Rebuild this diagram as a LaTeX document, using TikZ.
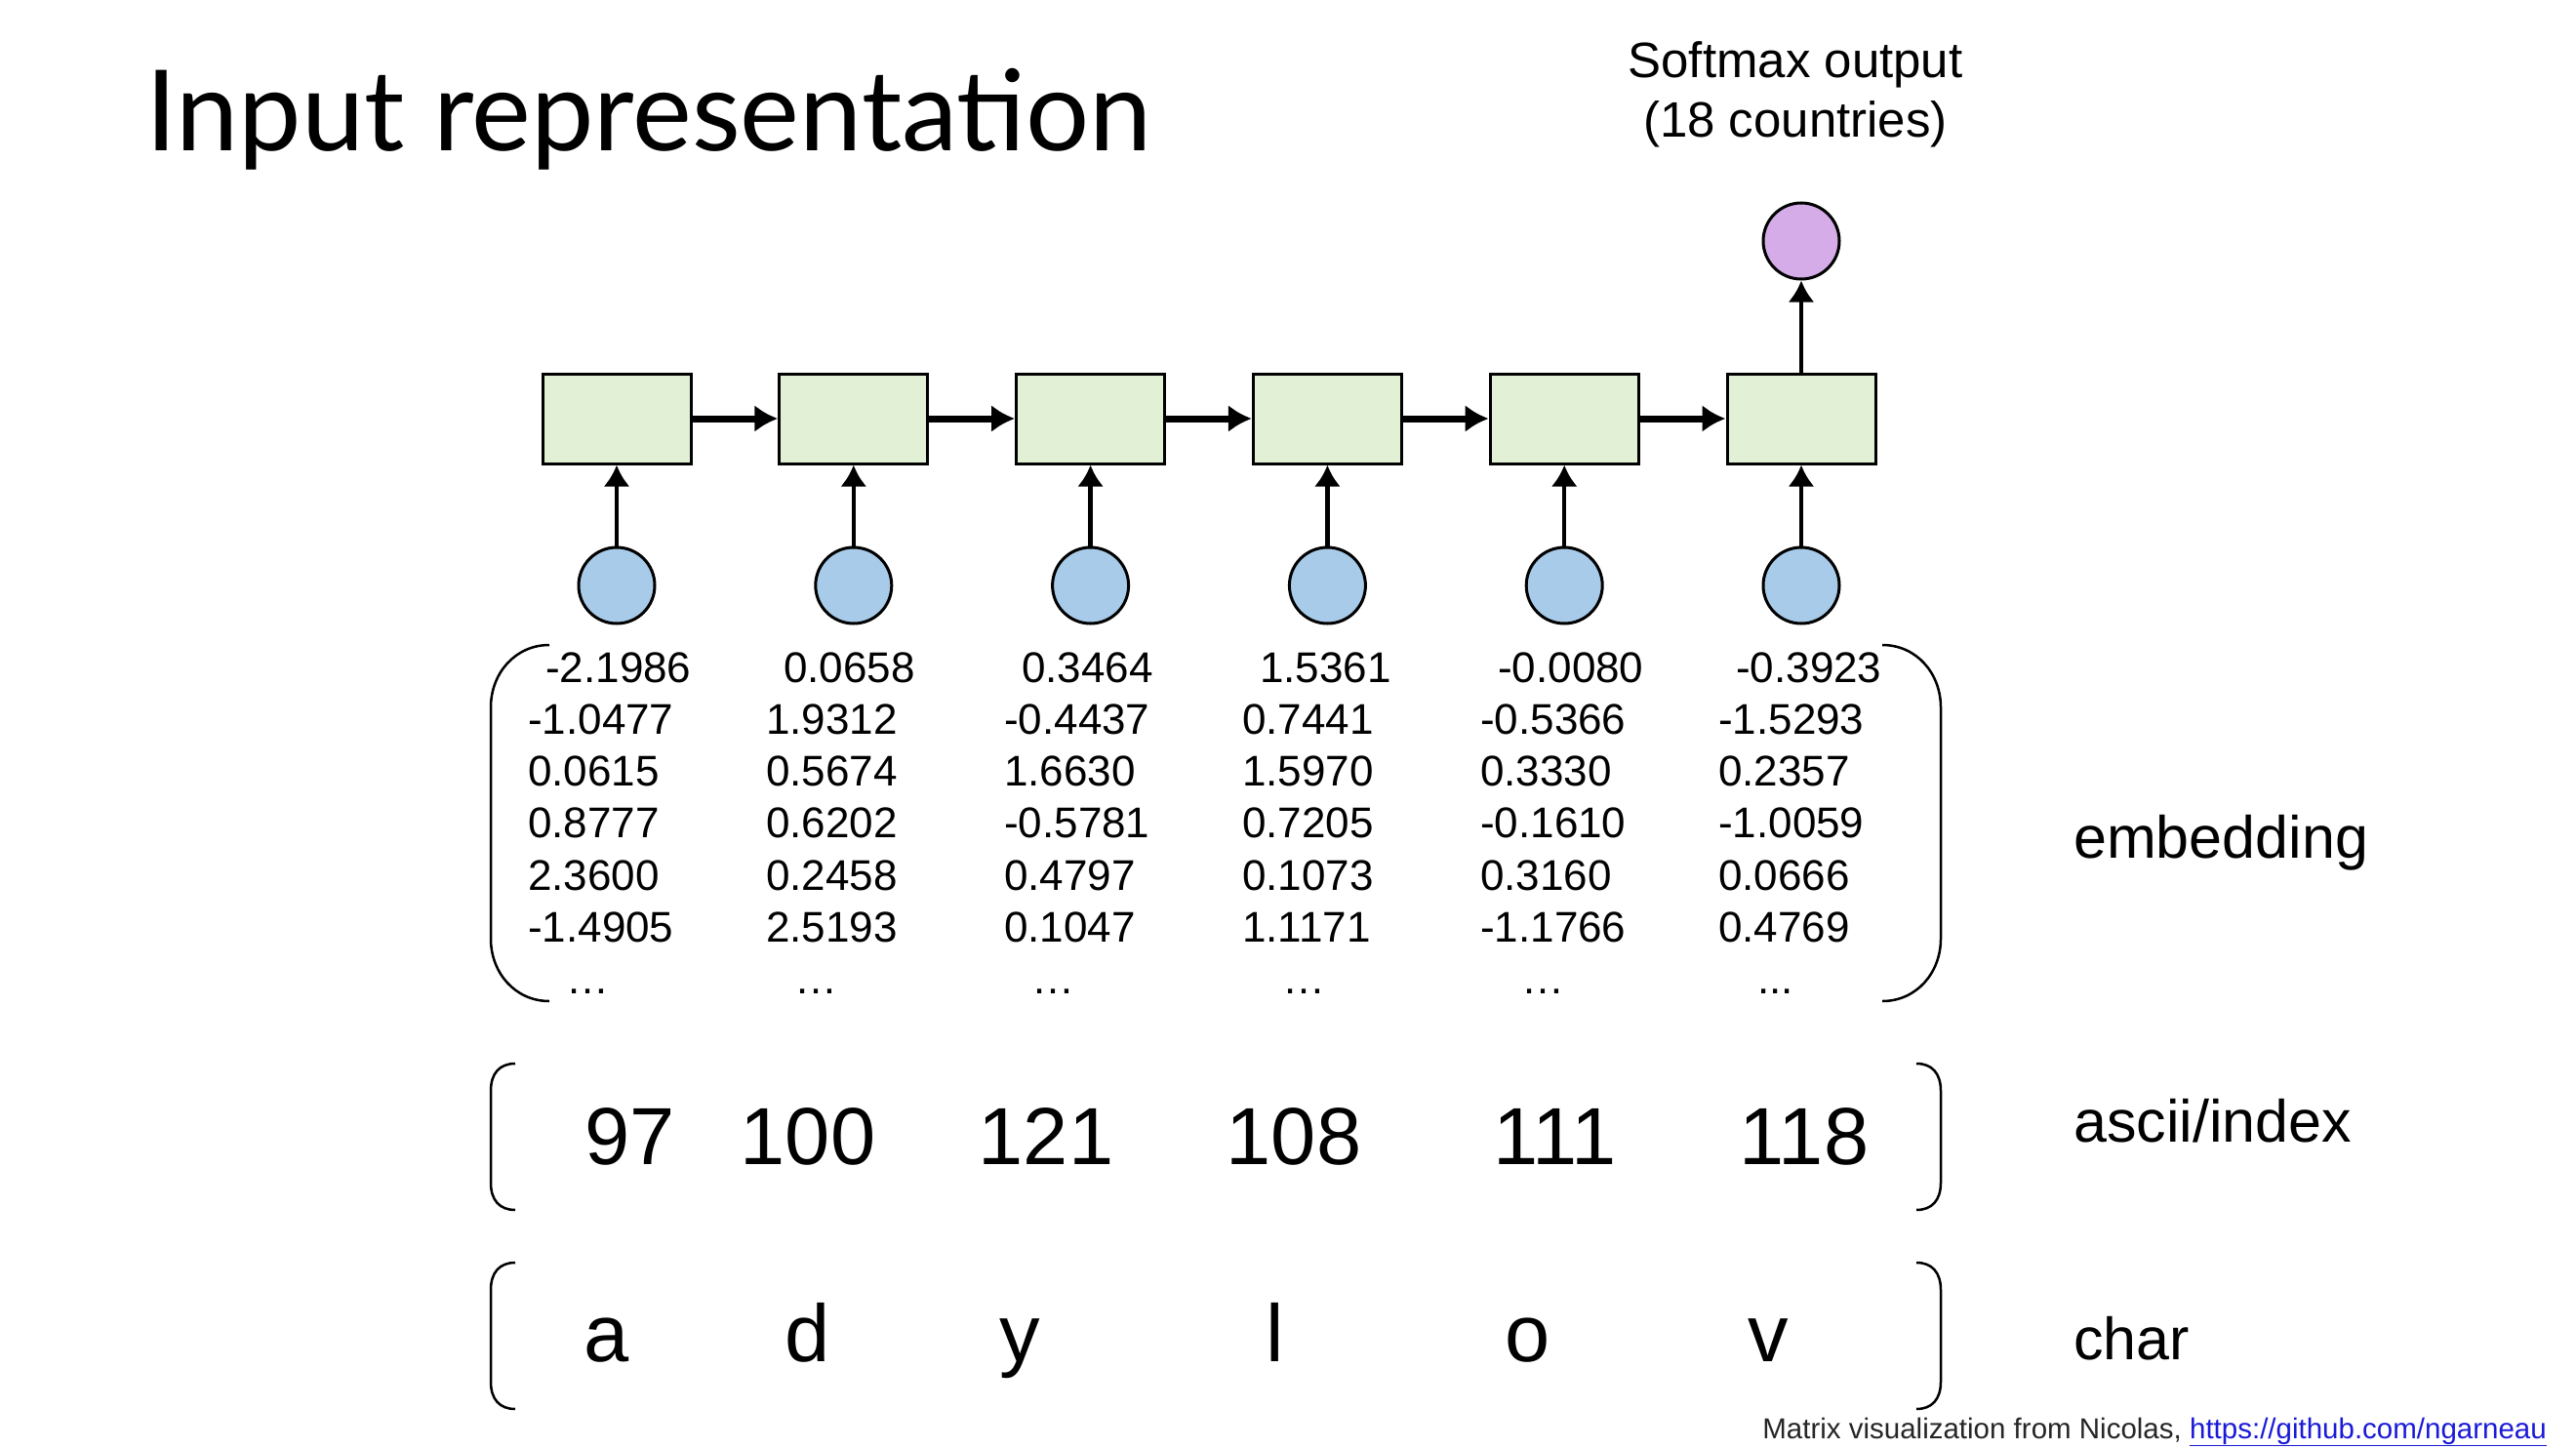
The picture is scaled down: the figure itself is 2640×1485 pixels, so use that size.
\documentclass[tikz,border=0pt]{standalone}
\usepackage{fontspec}
\setmainfont{Liberation Sans}
\newfontfamily\titlefont{Lato}
\usetikzlibrary{arrows.meta}

\definecolor{cellgreen}{HTML}{E2F0D5}
\definecolor{inblue}{HTML}{A8CBE9}
\definecolor{outpurple}{HTML}{D6ACE8}
\definecolor{linkblue}{HTML}{1A1AD8}

\begin{document}
\begin{tikzpicture}[x=1pt,y=-1pt,
  cell/.style={draw,line width=3pt,fill=cellgreen,minimum width=152pt,minimum height=92pt,inner sep=0pt},
  unit/.style={draw,circle,line width=3pt,minimum size=78pt,inner sep=0pt},
  uparrow/.style={line width=4.5pt,-{Latex[length=22pt,width=27pt]}},
  rarrow/.style={line width=7pt,-{Latex[length=24pt,width=28pt]}},
  paren/.style={line width=2.5pt},
  num/.style={inner sep=0pt,anchor=base west,font=\fontsize{44}{53}\selectfont},
  big/.style={inner sep=0pt,anchor=base,font=\fontsize{83}{100}\selectfont},
  side/.style={inner sep=0pt,anchor=base west,font=\fontsize{61}{70}\selectfont}]
\useasboundingbox (0,0) rectangle (2640,1485);

% Title
\node[inner sep=0pt,anchor=base west,font=\titlefont\fontsize{115}{130}\selectfont] (title) at (149,155) {Input representation};

% Softmax output on top
\node[inner sep=0pt,anchor=base,font=\fontsize{51}{58}\selectfont] (softmax) at (1840,80) {Softmax output};
\node[inner sep=0pt,anchor=base,font=\fontsize{51}{58}\selectfont] (countries) at (1840,141) {(18 countries)};
\node[unit,fill=outpurple] (out) at (1846,247) {};

% RNN cells and input units
\foreach \i in {0,...,5} {
  \node[cell] (cell\i) at (632+242.8*\i,429) {};
  \node[unit,fill=inblue] (in\i) at (632+242.8*\i,600) {};
  \draw[uparrow] (in\i) -- (cell\i);
}
\foreach \i [count=\j] in {0,...,4} \draw[rarrow] (cell\i) -- (cell\j);
\draw[uparrow] (cell5) -- (out);

% Embedding matrix
\foreach \c/\va/\vb/\vc/\vd/\ve/\vf in {
  0/-2.1986/-1.0477/0.0615/0.8777/2.3600/-1.4905,
  1/0.0658/1.9312/0.5674/0.6202/0.2458/2.5193,
  2/0.3464/-0.4437/1.6630/-0.5781/0.4797/0.1047,
  3/1.5361/0.7441/1.5970/0.7205/0.1073/1.1171,
  4/-0.0080/-0.5366/0.3330/-0.1610/0.3160/-1.1766,
  5/-0.3923/-1.5293/0.2357/-1.0059/0.0666/0.4769} {
  \node[num] (e\c-1) at (559+244*\c,699) {\va};
  \node[num] (e\c-2) at (541+244*\c,752) {\vb};
  \node[num] (e\c-3) at (541+244*\c,805) {\vc};
  \node[num] (e\c-4) at (541+244*\c,858) {\vd};
  \node[num] (e\c-5) at (541+244*\c,912) {\ve};
  \node[num] (e\c-6) at (541+244*\c,965) {\vf};
}
\foreach \c/\x in {0/580,1/814,2/1057,3/1314,4/1559}
  \node[num] (dots\c) at (\x,1018) {…};
\node[num] (dots5) at (1801,1018) {...};

% ascii / index row
\foreach \c/\x/\v in {0/646/97,1/828/100,2/1072/121,3/1326/108,4/1594/111,5/1849/118}
  \node[big] (asc\c) at (\x,1193) {\v};

% char row
\foreach \c/\x/\v in {0/622/a,1/828/d,2/1045/y,3/1307/l,4/1566/o,5/1812/v}
  \node[big] (chr\c) at (\x,1395) {\v};

% Brackets
\draw[paren] (563,661) .. controls (528,661) and (503,690) .. (503,725) -- (503,962) .. controls (503,997) and (528,1026) .. (563,1026);
\draw[paren] (1929,661) .. controls (1964,661) and (1989,690) .. (1989,725) -- (1989,962) .. controls (1989,997) and (1964,1026) .. (1929,1026);
\draw[paren] (528,1090) .. controls (512,1090) and (503,1100) .. (503,1118) -- (503,1212) .. controls (503,1230) and (512,1240) .. (528,1240);
\draw[paren] (1964,1090) .. controls (1980,1090) and (1989,1100) .. (1989,1118) -- (1989,1212) .. controls (1989,1230) and (1980,1240) .. (1964,1240);
\draw[paren] (528,1294) .. controls (512,1294) and (503,1304) .. (503,1322) -- (503,1416) .. controls (503,1434) and (512,1444) .. (528,1444);
\draw[paren] (1964,1294) .. controls (1980,1294) and (1989,1304) .. (1989,1322) -- (1989,1416) .. controls (1989,1434) and (1980,1444) .. (1964,1444);

% Row labels
\node[side] (lemb) at (2125,879) {embedding};
\node[side] (lasc) at (2125,1170) {ascii/index};
\node[side] (lchr) at (2125,1393) {char};

% Credit
\node[inner sep=0pt,anchor=base east,font=\fontsize{29.5}{34}\selectfont] (credit) at (2610,1474)
  {\color{black!85}Matrix visualization from Nicolas, \textcolor{linkblue}{\underline{https://github.com/ngarneau}}};
\end{tikzpicture}
\end{document}
